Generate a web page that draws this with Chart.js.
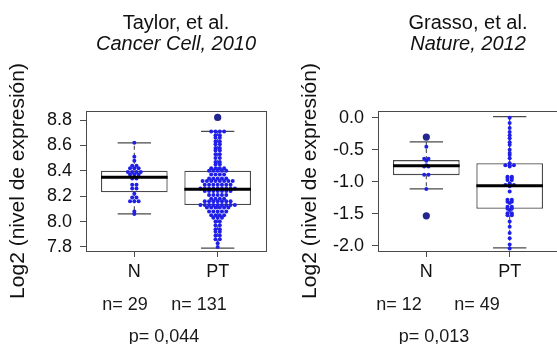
<!DOCTYPE html>
<html>
<head>
<meta charset="utf-8">
<script src="https://cdn.jsdelivr.net/npm/chart.js@4/dist/chart.umd.min.js"></script>
<style>
html, body { margin:0; padding:0; background:#fff; }
body { width:557px; height:344px; overflow:hidden; position:relative; font-family:"Liberation Sans", Arial, sans-serif; }
.cv { position:absolute; top:0; width:280px; height:344px; }
.note { position:absolute; font-size:18px; line-height:20px; color:#1a1a1a; white-space:nowrap; transform:translateX(-50%); }
</style>
</head>
<body>
<div class="cv" style="left:0px"><canvas id="c1" width="280" height="344"></canvas></div>
<div class="cv" style="left:292px"><canvas id="c2" width="280" height="344"></canvas></div>
<div class="note" style="left:125px;top:294px">n= 29</div>
<div class="note" style="left:199px;top:294px">n= 131</div>
<div class="note" style="left:164px;top:326px">p= 0,044</div>
<div class="note" style="left:399px;top:294px">n= 12</div>
<div class="note" style="left:477px;top:294px">n= 49</div>
<div class="note" style="left:434px;top:326px">p= 0,013</div>
<script>
// ---------- data ----------
const categories = ['N', 'PT'];

// Taylor, et al. (Cancer Cell, 2010)
const taylorN = [8.62, 8.51, 8.48, 8.44, 8.44, 8.42, 8.42, 8.42, 8.39, 8.39, 8.39, 8.39,
  8.37, 8.37, 8.37, 8.34, 8.34, 8.29, 8.29, 8.26, 8.26, 8.22, 8.19, 8.19,
  8.16, 8.16, 8.16, 8.08, 8.06];
const taylorPT = [
  8.82,
  8.71, 8.71, 8.71, 8.71, 8.68, 8.68, 8.66, 8.66, 8.63, 8.63, 8.61, 8.61,
  8.58, 8.58, 8.56, 8.56, 8.53, 8.53, 8.50, 8.50, 8.47, 8.47, 8.45, 8.45,
  8.42, 8.42, 8.42, 8.42, 8.40, 8.40, 8.40, 8.40, 8.40,
  8.37, 8.37, 8.37, 8.37, 8.34, 8.34, 8.34, 8.34, 8.34,
  8.32, 8.32, 8.32, 8.32, 8.32, 8.32, 8.32, 8.32,
  8.29, 8.29, 8.29, 8.29, 8.29, 8.29, 8.29,
  8.26, 8.26, 8.26, 8.26, 8.26, 8.26, 8.26, 8.26, 8.26,
  8.24, 8.24, 8.24, 8.24, 8.24, 8.24, 8.24,
  8.21, 8.21, 8.21, 8.21, 8.21, 8.18, 8.18, 8.18, 8.18,
  8.16, 8.16, 8.16, 8.16, 8.16, 8.16, 8.16,
  8.13, 8.13, 8.13, 8.13, 8.13, 8.13, 8.13, 8.13, 8.13,
  8.11, 8.11, 8.11, 8.11, 8.11, 8.11,
  8.08, 8.08, 8.08, 8.08, 8.08, 8.05, 8.05, 8.05, 8.05, 8.03, 8.03, 8.03,
  8.00, 8.00, 7.97, 7.97, 7.94, 7.94, 7.92, 7.92, 7.89, 7.89, 7.86, 7.86, 7.83, 7.80];
const taylorQ1 = [8.23, 8.13];
const taylorMedian = [8.35, 8.255];
const taylorQ3 = [8.40, 8.40];
const taylorWhiskerLow = [8.06, 7.79];
const taylorWhiskerHigh = [8.62, 8.71];
const taylorOutliers = [[], [8.82]];
const taylorTicks = [7.8, 8.0, 8.2, 8.4, 8.6, 8.8];

// Grasso, et al. (Nature, 2012)
const grassoN = [-0.30, -0.45, -0.64, -0.64, -0.67, -0.74, -0.76, -0.76, -0.89, -0.89, -1.11, -1.53];
const grassoPT = [0.00, -0.08, -0.16, -0.22, -0.27, -0.32, -0.38, -0.42, -0.50, -0.55, -0.58, -0.63,
  -0.71, -0.74, -0.74, -0.74, -0.76,
  -0.92, -0.92, -0.94, -0.94, -0.97, -0.97, -1.02, -1.05, -1.05, -1.05, -1.07, -1.15,
  -1.28, -1.28, -1.31, -1.31, -1.33, -1.39, -1.39, -1.42, -1.42, -1.44,
  -1.49, -1.49, -1.52, -1.52, -1.62, -1.70, -1.80, -1.88, -1.98, -2.04];
const grassoQ1 = [-0.895, -1.42];
const grassoMedian = [-0.75, -1.06];
const grassoQ3 = [-0.66, -0.71];
const grassoWhiskerLow = [-1.11, -2.03];
const grassoWhiskerHigh = [-0.375, 0.02];
const grassoOutliers = [[-0.30, -1.53], []];
const grassoTicks = [-2.0, -1.5, -1.0, -0.5, 0.0];

const yTitle = 'Log2 (nivel de expresión)';

// ---------- styling ----------
const FONT = "'Liberation Sans', Arial, sans-serif";
Chart.defaults.font.family = FONT;
const BOX_W = 0.8;     // box width in category units
const CAP_W = 0.4;     // whisker cap width in category units
const LINE = '#4a4a4a';
const DOT_DX = 4.3;    // horizontal spacing of dots in a row (px)

const framePlugin = {
  id: 'frame',
  afterDatasetsDraw(chart) {
    const a = chart.chartArea, ctx = chart.ctx;
    const al = v => Math.round(v - 0.5) + 0.5;
    ctx.save();
    ctx.strokeStyle = LINE;
    ctx.lineWidth = 1;
    ctx.strokeRect(al(a.left), al(a.top), al(a.right) - al(a.left), al(a.bottom) - al(a.top));
    ctx.restore();
  }
};

function lineDs(data, color, width, dash, order) {
  return { type: 'line', data, borderColor: color, borderWidth: width, borderDash: dash,
    pointRadius: 0, fill: false, tension: 0, order, borderCapStyle: 'butt' };
}

function makePanel(canvas, p) {
  const datasets = [];
  datasets.push({
    type: 'bar',
    data: categories.map((c, i) => ({ x: i + 1, y: [p.q1[i], p.q3[i]] })),
    backgroundColor: '#ffffff', borderColor: LINE, borderWidth: 1.3, borderSkipped: false,
    categoryPercentage: 1, barPercentage: BOX_W, order: 6
  });
  categories.forEach((c, i) => {
    const x = i + 1;
    datasets.push(lineDs([{ x, y: p.q3[i] }, { x, y: p.hi[i] }], LINE, 1.1, [4, 3], 5));
    datasets.push(lineDs([{ x, y: p.q1[i] }, { x, y: p.lo[i] }], LINE, 1.1, [4, 3], 5));
    datasets.push(lineDs([{ x: x - CAP_W / 2, y: p.hi[i] }, { x: x + CAP_W / 2, y: p.hi[i] }], LINE, 1.3, [], 4));
    datasets.push(lineDs([{ x: x - CAP_W / 2, y: p.lo[i] }, { x: x + CAP_W / 2, y: p.lo[i] }], LINE, 1.3, [], 4));
    datasets.push(lineDs([{ x: x - BOX_W / 2, y: p.med[i] }, { x: x + BOX_W / 2, y: p.med[i] }], '#000', 3, [], 0));
  });
  categories.forEach((c, i) => {
    datasets.push({
      type: 'scatter', swarm: true, cat: i + 1, values: p.points[i],
      data: p.points[i].map(v => ({ x: i + 1, y: v })),
      pointRadius: 2.0, pointBackgroundColor: '#1f1fe8', pointBorderWidth: 0, order: 2
    });
  });
  datasets.push({
    type: 'scatter',
    data: p.out.flatMap((arr, i) => arr.map(v => ({ x: i + 1, y: v }))),
    pointRadius: 3.6, pointBackgroundColor: '#25258f', pointBorderWidth: 0, order: 1
  });

  const chart = new Chart(canvas, {
    type: 'bar',
    data: { datasets },
    plugins: [framePlugin],
    options: {
      responsive: false,
      animation: false,
      events: [],
      layout: { padding: { left: 0, right: 14, top: 0, bottom: 0 } },
      plugins: {
        legend: { display: false },
        tooltip: { enabled: false },
        title: { display: true, text: p.title, fullSize: false, color: '#111',
          font: { size: 20, family: FONT, weight: 'normal', lineHeight: 1 }, padding: { top: 13, bottom: 0 } },
        subtitle: { display: true, text: p.subtitle, fullSize: false, color: '#111',
          font: { size: 20, family: FONT, style: 'italic', weight: 'normal', lineHeight: 1 }, padding: { top: 1, bottom: 57 } }
      },
      scales: {
        x: {
          type: 'linear', min: 0.42, max: 2.58, offset: false,
          grid: { drawOnChartArea: false, drawTicks: true, tickLength: 6, color: LINE, offset: false },
          border: { display: true, color: LINE },
          afterBuildTicks: s => { s.ticks = categories.map((c, i) => ({ value: i + 1 })); },
          ticks: { callback: v => categories[Math.round(v) - 1], autoSkip: false, maxRotation: 0,
            padding: 4, color: '#111', font: { size: 18, family: FONT } },
          afterFit: s => { s.height = 93; }
        },
        y: {
          type: 'linear', min: p.ymin, max: p.ymax,
          grid: { drawOnChartArea: false, drawTicks: true, tickLength: 6, color: LINE },
          border: { display: true, color: LINE },
          afterBuildTicks: s => { s.ticks = p.ticks.map(v => ({ value: v })); },
          ticks: { callback: v => Number(v).toFixed(1), padding: 8, color: '#111', font: { size: 18, family: FONT } },
          title: { display: true, text: yTitle, color: '#111', font: { size: 21, family: FONT }, padding: { top: 6, bottom: 0 } },
          afterFit: s => { s.width = 86; }
        }
      }
    }
  });
  applySwarm(chart);
  return chart;
}

// beeswarm "center" layout: equal values form a row centred on the category
function applySwarm(chart) {
  const xs = chart.scales.x;
  chart.data.datasets.forEach(ds => {
    if (!ds.swarm) return;
    const cx = xs.getPixelForValue(ds.cat);
    const groups = new Map();
    ds.values.forEach((v, k) => {
      const key = v.toFixed(4);
      if (!groups.has(key)) groups.set(key, []);
      groups.get(key).push(k);
    });
    const out = [];
    groups.forEach(ks => {
      const n = ks.length;
      ks.forEach((k, j) => {
        const dx = (j - (n - 1) / 2) * DOT_DX;
        out.push({ x: xs.getValueForPixel(cx + dx), y: ds.values[k] });
      });
    });
    ds.data = out;
  });
  chart.update('none');
}

makePanel(document.getElementById('c1'), {
  title: 'Taylor, et al.', subtitle: 'Cancer Cell, 2010',
  points: [taylorN, taylorPT], q1: taylorQ1, med: taylorMedian, q3: taylorQ3,
  lo: taylorWhiskerLow, hi: taylorWhiskerHigh, out: taylorOutliers,
  ticks: taylorTicks, ymin: 7.768, ymax: 8.871
});
makePanel(document.getElementById('c2'), {
  title: 'Grasso, et al.', subtitle: 'Nature, 2012',
  points: [grassoN, grassoPT], q1: grassoQ1, med: grassoMedian, q3: grassoQ3,
  lo: grassoWhiskerLow, hi: grassoWhiskerHigh, out: grassoOutliers,
  ticks: grassoTicks, ymin: -2.08, ymax: 0.107
});
</script>
</body>
</html>
